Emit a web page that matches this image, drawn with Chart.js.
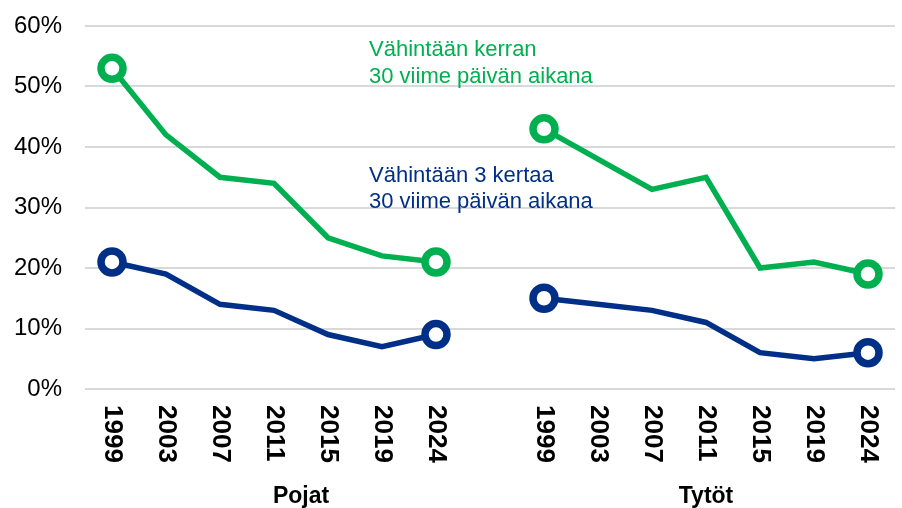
<!DOCTYPE html>
<html lang="fi">
<head>
  <meta charset="UTF-8" />
  <title>Vähintään kerran / 3 kertaa 30 viime päivän aikana</title>
  <script src="https://cdn.jsdelivr.net/npm/chart.js"></script>
  <style>
    body {
      margin: 0;
      background: #fff;
    }
    #wrap {
      width: 902px;
      height: 508px;
    }
  </style>
</head>
<body>
  <div id="wrap"><canvas id="chart" width="902" height="508"></canvas></div>

  <script>
    // data, % of respondents
    const years = ['1999', '2003', '2007', '2011', '2015', '2019', '2024'];
    const groups = ['Pojat', 'Tytöt'];

    const kerranPojat = [53, 42, 35, 34, 25, 22, 21];
    const kerranTytot = [43, 38, 33, 35, 20, 21, 19];
    const kolmePojat = [21, 19, 14, 13, 9, 7, 9];
    const kolmeTytot = [15, 14, 13, 11, 6, 5, 6];

    const yTicks = [0, 10, 20, 30, 40, 50, 60];

    const green = '#00B050';
    const navy = '#002F87';
    const font = '"Liberation Sans", Arial, sans-serif';

    // one empty slot between the two groups
    const labels = [...years, '', ...years];
    const kerran = [...kerranPojat, null, ...kerranTytot];
    const kolme = [...kolmePojat, null, ...kolmeTytot];

    // circles only on the first and last point of each line piece
    function endPoint(ctx) {
      const d = ctx.dataset.data;
      const i = ctx.dataIndex;
      if (d[i] == null) return 0;
      const prev = i > 0 ? d[i - 1] : null;
      const next = i < d.length - 1 ? d[i + 1] : null;
      return (prev == null || next == null) ? 11 : 0;
    }

    function lineSet(label, data, color) {
      return {
        label: label,
        data: data,
        borderColor: color,
        borderWidth: 5.5,
        tension: 0,
        spanGaps: false,
        clip: false,
        pointRadius: endPoint,
        pointHoverRadius: endPoint,
        pointBackgroundColor: '#fff',
        pointBorderColor: color,
        pointBorderWidth: 7.5,
        pointHoverBorderWidth: 7.5
      };
    }

    const textPlugin = {
      id: 'texts',
      afterDraw(chart) {
        const c = chart.ctx;
        const x = chart.scales.x;
        const y = chart.scales.y;
        const step = x.getPixelForValue(1) - x.getPixelForValue(0);

        // rotated year labels, read top to bottom
        c.save();
        c.fillStyle = '#000';
        c.font = 'bold 26px ' + font;
        c.textAlign = 'left';
        c.textBaseline = 'middle';
        labels.forEach((l, i) => {
          if (!l) return;
          c.save();
          c.translate(x.getPixelForValue(i), y.bottom + 16);
          c.rotate(Math.PI / 2);
          c.fillText(l, 0, 0);
          c.restore();
        });

        // group names
        c.font = 'bold 23px ' + font;
        c.textAlign = 'center';
        c.fillText(groups[0], x.getPixelForValue(3) + step / 2, 497);
        c.fillText(groups[1], x.getPixelForValue(11), 497);

        // series labels
        c.font = '22px ' + font;
        c.textAlign = 'left';
        const tx = x.getPixelForValue(4) + step * 0.76;
        c.fillStyle = green;
        c.fillText('Vähintään kerran', tx, y.getPixelForValue(56));
        c.fillText('30 viime päivän aikana', tx, y.getPixelForValue(51.6));
        c.fillStyle = navy;
        c.fillText('Vähintään 3 kertaa', tx, y.getPixelForValue(35.2));
        c.fillText('30 viime päivän aikana', tx, y.getPixelForValue(30.9));
        c.restore();
      }
    };

    new Chart(document.getElementById('chart'), {
      type: 'line',
      data: {
        labels: labels,
        datasets: [
          lineSet('Vähintään kerran 30 viime päivän aikana', kerran, green),
          lineSet('Vähintään 3 kertaa 30 viime päivän aikana', kolme, navy)
        ]
      },
      options: {
        responsive: false,
        animation: false,
        events: [],
        layout: {
          autoPadding: false,
          padding: { top: 26, right: 7, bottom: 0, left: 0 }
        },
        plugins: {
          legend: { display: false },
          tooltip: { enabled: false }
        },
        scales: {
          x: {
            offset: true,
            grid: { display: false, drawTicks: false },
            border: { display: false },
            ticks: { display: false },
            afterFit(scale) {
              scale.height = 119;
              scale.paddingLeft = 0;
              scale.paddingRight = 0;
            }
          },
          y: {
            min: yTicks[0],
            max: yTicks[yTicks.length - 1],
            afterBuildTicks(scale) { scale.ticks = yTicks.map(v => ({ value: v })); },
            grid: { color: '#D9D9D9', lineWidth: 2, drawTicks: false },
            border: { display: false },
            ticks: {
              color: '#000',
              padding: 23,
              font: { family: font, size: 24 },
              callback: v => v + '%'
            },
            afterFit(scale) {
              scale.width = 85;
              scale.paddingTop = 0;
              scale.paddingBottom = 0;
            }
          }
        }
      },
      plugins: [textPlugin]
    });
  </script>
</body>
</html>
